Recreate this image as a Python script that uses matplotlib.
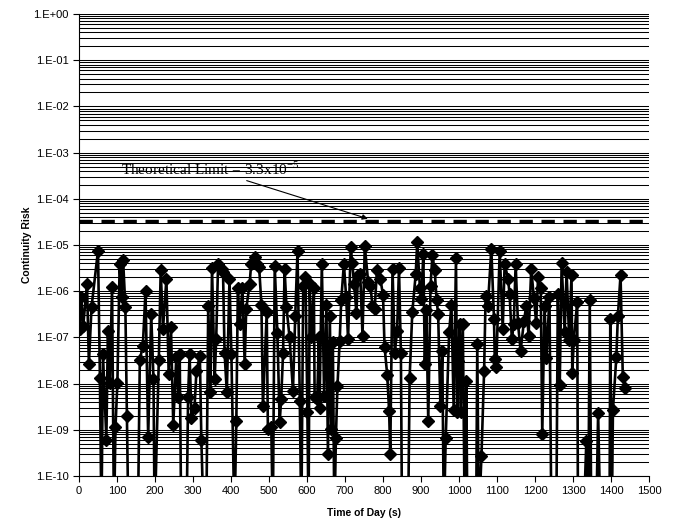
import matplotlib
matplotlib.use("Agg")
import matplotlib.pyplot as plt
import numpy as np

plt.rcParams['font.family'] = ['Liberation Sans', 'DejaVu Sans']
plt.rcParams['mathtext.fontset'] = 'custom'
plt.rcParams['mathtext.rm'] = 'Liberation Serif'

# time of day (s) and log10 of continuity risk
# (-11 marks points that fall below the 1E-10 floor of the axis)
time_s = [
    2, 6, 11, 21, 26, 33, 50, 55, 59, 63, 72, 76, 81, 87, 92, 96, 101, 107,
    112, 116, 122, 126, 130, 150, 155, 160, 168, 175, 182, 190, 196, 199, 210,
    215, 221, 230, 236, 242, 248, 256, 261, 265, 269, 283, 287, 291, 296, 304,
    309, 318, 322, 328, 335, 340, 346, 350, 357, 361, 366, 375, 379, 383, 389,
    396, 401, 409, 414, 418, 423, 430, 436, 440, 449, 453, 462, 468, 474, 480,
    484, 494, 497, 506, 510, 515, 522, 528, 532, 537, 541, 546, 554, 563, 569,
    575, 581, 585, 590, 596, 601, 604, 607, 611, 618, 620, 627, 631, 633, 639,
    645, 651, 655, 660, 664, 668, 672, 676, 680, 686, 690, 697, 703, 708, 715,
    719, 724, 730, 734, 740, 746, 752, 761, 767, 772, 778, 784, 793, 800, 804,
    811, 816, 819, 825, 831, 837, 842, 847, 850, 866, 870, 877, 886, 890, 897,
    901, 906, 910, 914, 919, 925, 930, 936, 941, 945, 951, 956, 960, 965, 974,
    980, 986, 992, 995, 998, 1002, 1004, 1010, 1015, 1019, 1022, 1045, 1048,
    1052, 1059, 1066, 1070, 1076, 1085, 1092, 1094, 1098, 1107, 1115, 1120,
    1129, 1133, 1139, 1144, 1149, 1155, 1162, 1171, 1177, 1183, 1190, 1197,
    1203, 1208, 1215, 1219, 1225, 1230, 1238, 1243, 1256, 1260, 1265, 1270,
    1278, 1283, 1290, 1296, 1298, 1302, 1311, 1313, 1328, 1335, 1340, 1344,
    1348, 1361, 1366, 1372, 1396, 1398, 1402, 1405, 1414, 1418, 1425, 1431,
    1436,
]
log_risk = [
    -6.82, -6.13, -6.75, -5.84, -7.58, -6.34, -5.12, -7.87, -11, -7.36, -9.21,
    -6.86, -7.98, -5.90, -11, -8.94, -7.98, -5.41, -6.13, -5.32, -6.34, -8.70,
    -11, -11, -11, -7.49, -7.18, -5.99, -9.16, -6.50, -7.90, -11, -7.49, -5.54,
    -6.82, -5.73, -7.80, -6.78, -8.89, -7.43, -8.30, -7.35, -11, -11, -8.30,
    -7.37, -8.74, -8.52, -7.72, -7.40, -9.23, -11, -11, -6.31, -8.19, -5.50,
    -7.90, -7.04, -5.41, -5.52, -5.59, -7.33, -8.19, -5.73, -7.37, -11, -8.82,
    -5.93, -6.71, -5.92, -7.58, -6.39, -5.84, -5.41, -5.25, -5.41, -5.48,
    -6.29, -8.49, -6.45, -8.99, -8.95, -11, -5.45, -6.90, -8.84, -8.33, -7.33,
    -5.52, -6.35, -7.00, -8.16, -6.53, -5.12, -8.37, -11, -5.88, -5.70, -8.62,
    -11, -5.84, -7.00, -5.92, -8.30, -8.33, -7.00, -8.52, -5.41, -8.26, -6.29,
    -9.53, -6.53, -8.99, -7.11, -11, -9.17, -8.06, -7.07, -6.20, -5.41, -6.13,
    -7.04, -5.05, -5.39, -5.84, -6.48, -5.66, -5.63, -6.96, -5.02, -5.81,
    -5.88, -6.31, -6.39, -5.54, -5.73, -6.09, -7.20, -7.81, -8.59, -9.52,
    -5.52, -7.33, -6.86, -5.50, -7.33, -11, -11, -7.87, -6.46, -5.63, -4.94,
    -5.92, -6.17, -5.19, -7.58, -6.41, -8.81, -5.88, -5.22, -5.55, -6.20,
    -6.49, -8.49, -7.30, -11, -9.17, -6.89, -6.29, -8.57, -5.28, -8.62, -7.51,
    -6.71, -8.62, -6.71, -11, -7.94, -11, -11, -7.14, -11, -9.57, -7.72,
    -6.10, -6.31, -5.08, -6.60, -7.47, -7.65, -5.12, -6.82, -5.41, -5.73,
    -6.06, -7.04, -6.71, -5.41, -6.68, -7.29, -6.64, -6.31, -6.96, -5.52,
    -6.14, -6.68, -5.70, -5.92, -9.10, -6.31, -7.44, -6.13, -11, -11, -6.05,
    -8.03, -5.40, -6.88, -5.58, -7.06, -5.65, -7.78, -7.06, -6.23, -11, -11,
    -9.24, -11, -6.18, -11, -11, -8.64, -11, -11, -6.61, -11, -8.57, -7.42,
    -6.54, -5.65, -7.86, -8.10,
]
limit = 3.3e-5
x_ticks = list(range(0, 1501, 100))
y_decades = list(range(-10, 1))

risk = 10.0 ** np.array(log_risk)

fig = plt.figure(figsize=(6.77, 5.2), dpi=100)
ax = fig.add_axes([0.1167, 0.0846, 0.842, 0.8885])

ax.set_yscale('log')
ax.set_xlim(0, 1500)
ax.set_ylim(1e-10, 1)

# horizontal grid on every major and minor log line, no vertical grid
ax.yaxis.set_major_locator(matplotlib.ticker.FixedLocator([10.0 ** d for d in y_decades]))
ax.yaxis.set_minor_locator(matplotlib.ticker.LogLocator(base=10, subs=np.arange(2, 10),
                                                        numticks=200))
ax.yaxis.set_minor_formatter(matplotlib.ticker.NullFormatter())
ax.grid(True, axis='y', which='both', color='black', linewidth=0.75)
ax.grid(False, axis='x')
ax.set_axisbelow(True)

ax.plot(time_s, risk, color='black', linewidth=1.9, marker='D',
        markersize=5.8, markerfacecolor='black', markeredgecolor='black',
        zorder=3)

ax.axhline(limit, color='black', linewidth=2.4, dashes=(4, 2.6), zorder=4)

ax.annotate(r'Theoretical Limit = 3.3x10$^{-5}$',
            xy=(760, 3.7e-5), xytext=(111, 3.3e-4),
            fontsize=11, family='Liberation Serif', va='baseline',
            arrowprops=dict(arrowstyle='-|>', color='black', lw=0.8,
                            mutation_scale=8, shrinkA=0, shrinkB=0),
            zorder=5)

ax.set_xticks(x_ticks)
ax.set_yticklabels(['1.E+00' if d == 0 else '1.E-%02d' % (-d) for d in y_decades])
ax.tick_params(axis='both', which='major', labelsize=8, direction='out',
               length=4, width=0.8, color='black')
ax.tick_params(axis='y', which='minor', left=False)

for side in ('top', 'right'):
    ax.spines[side].set_visible(False)
for side in ('left', 'bottom'):
    ax.spines[side].set_linewidth(0.8)

ax.set_xlabel('Time of Day (s)', fontsize=7.5, fontweight='bold', labelpad=8)
ax.set_ylabel('Continuity Risk', fontsize=7.5, fontweight='bold', labelpad=1)

fig.savefig('out.png', dpi=100)
